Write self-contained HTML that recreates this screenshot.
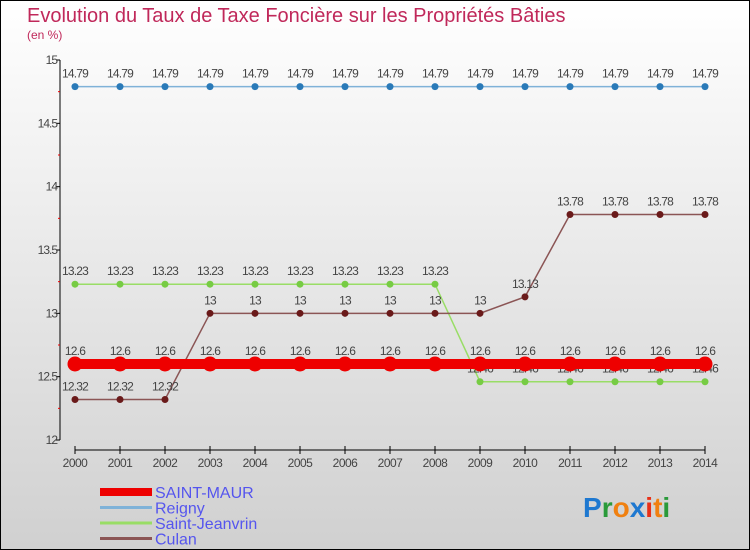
<!DOCTYPE html>
<html><head><meta charset="utf-8"><style>
body{margin:0;width:750px;height:550px;overflow:hidden}
svg{display:block;font-family:"Liberation Sans",sans-serif}
</style></head><body>
<svg id="c" width="750" height="550">
<defs><linearGradient id="bg" x1="0" y1="0" x2="0" y2="1"><stop offset="0" stop-color="#ffffff"/><stop offset="1" stop-color="#d0d0d0"/></linearGradient></defs>
<rect x="0.5" y="0.5" width="749" height="549" fill="url(#bg)" stroke="#000"/>
<text x="27" y="22" font-size="20" fill="#c0285a">Evolution du Taux de Taxe Foncière sur les Propriétés Bâties</text>
<text x="27" y="39" font-size="12" fill="#c0285a">(en %)</text>
<g id="axes"></g>
<g id="series"></g>
<g id="legend"></g>
<g font-size="28" font-weight="bold" font-family="'Liberation Sans',sans-serif">
<text x="583" y="517"><tspan fill="#1e78d0">P</tspan><tspan fill="#2a9a3a">r</tspan><tspan fill="#f08010">o</tspan><tspan fill="#1e78d0">x</tspan><tspan fill="#e83018">i</tspan><tspan fill="#f08010">t</tspan><tspan fill="#2a9a3a">i</tspan></text>
</g>
</svg>
<script>
const years=[2000,2001,2002,2003,2004,2005,2006,2007,2008,2009,2010,2011,2012,2013,2014];
const yTicks=[12,12.5,13,13.5,14,14.5,15];
const saintMaur=[12.6,12.6,12.6,12.6,12.6,12.6,12.6,12.6,12.6,12.6,12.6,12.6,12.6,12.6,12.6];
const reigny=[14.79,14.79,14.79,14.79,14.79,14.79,14.79,14.79,14.79,14.79,14.79,14.79,14.79,14.79,14.79];
const saintJeanvrin=[13.23,13.23,13.23,13.23,13.23,13.23,13.23,13.23,13.23,12.46,12.46,12.46,12.46,12.46,12.46];
const culan=[12.32,12.32,12.32,13,13,13,13,13,13,13,13.13,13.78,13.78,13.78,13.78];
const seriesNames=["SAINT-MAUR","Reigny","Saint-Jeanvrin","Culan"];
const NS="http://www.w3.org/2000/svg";
const xs=i=>75+i*45;
const ys=v=>440-(v-12)*(380/3);
function mk(tag,attrs,parent,txt){const e=document.createElementNS(NS,tag);for(const k in attrs)e.setAttribute(k,attrs[k]);if(txt!==undefined)e.textContent=txt;parent.appendChild(e);return e;}
const ax=document.getElementById('axes');
let yl=mk('line',{x1:60,y1:60,x2:60,y2:440,stroke:'#000'},ax);


yTicks.forEach(t=>{
  mk('line',{x1:56,x2:60,y1:ys(t),y2:ys(t),stroke:'#000'},ax);
  if(t<15){mk('line',{x1:58,x2:60,y1:ys(t+0.25),y2:ys(t+0.25),stroke:'#e00'},ax);}
  let tl=mk('text',{x:57,y:ys(t)+4,'font-size':12,fill:'#444','text-anchor':'end','letter-spacing':'-1'},ax,String(t));
  
  
});
let xl=mk('line',{x1:xs(0),y1:450,x2:xs(years.length-1),y2:450,stroke:'#000'},ax);


years.forEach((y,i)=>{
  mk('line',{x1:xs(i),x2:xs(i),y1:446,y2:454,stroke:'#000'},ax);
  let tl=mk('text',{x:xs(i),y:467,'font-size':12,fill:'#444','text-anchor':'middle','letter-spacing':'-0.5'},ax,String(y));
  
  
});
const sg=document.getElementById('series');
function drawSeries(vals,color,lw,r,dot,name){
  const g=mk('g',{},sg);
  
  
  mk('polyline',{points:vals.map((v,i)=>xs(i)+','+ys(v)).join(' '),fill:'none',stroke:color,'stroke-width':lw},g);
  vals.forEach((v,i)=>{
    const c=mk('circle',{cx:xs(i),cy:ys(v),r:r,fill:dot},g);
    
    
    const t=mk('text',{x:xs(i),y:ys(v)-9,'font-size':12,fill:'#444','text-anchor':'middle','letter-spacing':'-0.8'},g,String(v));
    
    
  });
}
drawSeries(reigny,'#7fb2d8',1.5,3.5,'#2a7ab8','reigny');
drawSeries(saintJeanvrin,'#99dd66',1.5,3.5,'#77cc44','saint-jeanvrin');
drawSeries(culan,'#8b5555',1.5,3.5,'#6a1a1a','culan');
drawSeries(saintMaur,'#ee0000',10,7.5,'#ee0000','saint-maur');
const lg=document.getElementById('legend');
const lcol=['#ee0000','#7fb2d8','#99dd66','#8b5555'];
const lw=[8,3,3,3];
seriesNames.forEach((n,i)=>{
  const g=mk('g',{},lg);
  
  
  const y=492+i*15.5;
  mk('line',{x1:100,x2:152,y1:y,y2:y,stroke:lcol[i],'stroke-width':lw[i]},g);
  mk('text',{x:155,y:y+6,'font-size':16,fill:'#5555ee'},g,n);
});
</script>
</body></html>
